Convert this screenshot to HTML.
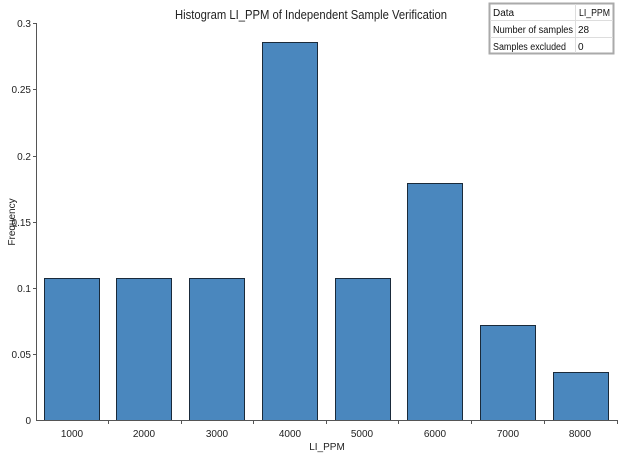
<!DOCTYPE html><html><head><style>body{margin:0;background:#fff}svg{display:block;font-family:"Liberation Sans",sans-serif}</style></head><body>
<svg width="623" height="454" xmlns="http://www.w3.org/2000/svg">
<text x="175" y="19" font-size="13" textLength="272" lengthAdjust="spacingAndGlyphs" fill="#222">Histogram  LI_PPM of Independent Sample Verification</text>
<g fill="#4a87be" stroke="#1a2a3a" stroke-width="1">
<rect x="44.5" y="278.5" width="55" height="142"/>
<rect x="116.5" y="278.5" width="55" height="142"/>
<rect x="189.5" y="278.5" width="55" height="142"/>
<rect x="262.5" y="42.5" width="55" height="378"/>
<rect x="335.5" y="278.5" width="55" height="142"/>
<rect x="407.5" y="183.5" width="55" height="237"/>
<rect x="480.5" y="325.5" width="55" height="95"/>
<rect x="553.5" y="372.5" width="55" height="48"/>
</g>
<g stroke="#555" stroke-width="1">
<line x1="36.5" y1="23" x2="36.5" y2="421"/>
<line x1="36" y1="420.5" x2="618" y2="420.5"/>
<line x1="33" y1="23.5" x2="36" y2="23.5"/><line x1="33" y1="89.5" x2="36" y2="89.5"/><line x1="33" y1="156.5" x2="36" y2="156.5"/><line x1="33" y1="222.5" x2="36" y2="222.5"/><line x1="33" y1="288.5" x2="36" y2="288.5"/><line x1="33" y1="354.5" x2="36" y2="354.5"/>
<line x1="108.5" y1="420" x2="108.5" y2="424"/><line x1="181.5" y1="420" x2="181.5" y2="424"/><line x1="253.5" y1="420" x2="253.5" y2="424"/><line x1="326.5" y1="420" x2="326.5" y2="424"/><line x1="398.5" y1="420" x2="398.5" y2="424"/><line x1="471.5" y1="420" x2="471.5" y2="424"/><line x1="544.5" y1="420" x2="544.5" y2="424"/><line x1="617.5" y1="420" x2="617.5" y2="424"/>
</g>
<g font-size="10" fill="#222" text-anchor="end">
<text x="31" y="27">0.3</text><text x="31" y="93">0.25</text><text x="31" y="160">0.2</text><text x="31" y="226">0.15</text><text x="31" y="292">0.1</text><text x="31" y="358">0.05</text><text x="31" y="424">0</text>
</g>
<g font-size="10" fill="#222" text-anchor="middle">
<text x="72" y="437">1000</text><text x="144" y="437">2000</text><text x="217" y="437">3000</text><text x="290" y="437">4000</text><text x="362" y="437">5000</text><text x="435" y="437">6000</text><text x="508" y="437">7000</text><text x="580" y="437">8000</text>
<text x="327" y="450">LI_PPM</text>
<text transform="translate(15,222) rotate(-90)">Frequency</text>
</g>
<rect x="489.5" y="3.5" width="124" height="50" fill="#fff" stroke="#aaa" stroke-width="2"/>
<g stroke="#ddd"><line x1="490" y1="20.5" x2="613" y2="20.5"/><line x1="490" y1="37.5" x2="613" y2="37.5"/><line x1="575.5" y1="4" x2="575.5" y2="53"/></g>
<g font-size="10" fill="#111"><text x="493" y="16">Data</text><text x="579" y="16" textLength="31" lengthAdjust="spacingAndGlyphs">LI_PPM</text><text x="493" y="33" textLength="80" lengthAdjust="spacingAndGlyphs">Number of samples</text><text x="578" y="33">28</text><text x="493" y="50" textLength="73" lengthAdjust="spacingAndGlyphs">Samples excluded</text><text x="578" y="50">0</text></g>
</svg></body></html>
